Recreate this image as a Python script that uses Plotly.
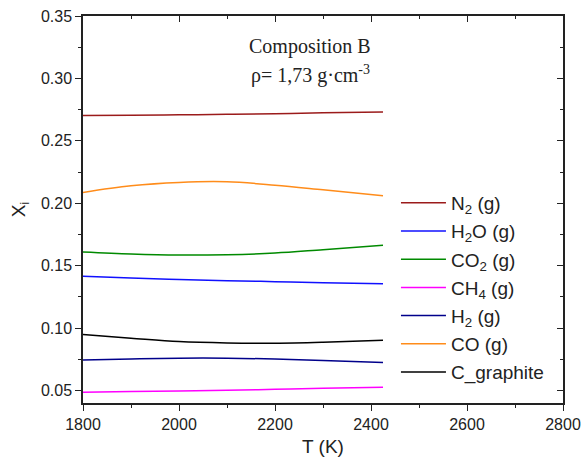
import plotly.graph_objects as go

T = [1800, 1900, 2000, 2100, 2200, 2300, 2425]
N2 = [0.2702, 0.2704, 0.2708, 0.2712, 0.2717, 0.2724, 0.2732]
H2O = [0.1415, 0.1401, 0.1390, 0.1380, 0.1372, 0.1364, 0.1356]
CO2 = [0.1609, 0.1593, 0.1585, 0.1588, 0.1601, 0.1628, 0.1663]
CH4 = [0.0487, 0.0492, 0.0497, 0.0502, 0.0510, 0.0518, 0.0527]
H2 = [0.0745, 0.0753, 0.0759, 0.0759, 0.0753, 0.0740, 0.0724]
CO = [0.2087, 0.2140, 0.2167, 0.2172, 0.2145, 0.2108, 0.2060]
C_graphite = [0.0948, 0.0919, 0.0892, 0.0881, 0.0879, 0.0887, 0.0903]

series = [
    ("N<sub>2</sub> (g)", N2, "#9B1B1B"),
    ("H<sub>2</sub>O (g)", H2O, "#1010FF"),
    ("CO<sub>2</sub> (g)", CO2, "#008A00"),
    ("CH<sub>4</sub> (g)", CH4, "#FF00FF"),
    ("H<sub>2</sub> (g)", H2, "#00008B"),
    ("CO (g)", CO, "#FF8C1A"),
    ("C_graphite", C_graphite, "#000000"),
]

fig = go.Figure()
for name, vals, col in series:
    fig.add_trace(go.Scatter(x=T, y=vals, mode="lines", name=name, legendgroup=name,
                             line=dict(color=col, width=1.5, shape="spline")))

font = "Liberation Sans, Arial, sans-serif"
axis_common = dict(showline=True, linecolor="#222", linewidth=1.5, ticks="outside",
                   ticklen=6, tickwidth=1.2, tickcolor="#222", showgrid=False, zeroline=False,
                   automargin=False,
                   tickfont=dict(family=font, size=16, color="#222"))

fig.update_layout(
    template="none",
    width=584, height=467,
    margin=dict(l=83, r=21, t=16, b=64),
    plot_bgcolor="white", paper_bgcolor="white",
    font=dict(family=font, color="#222"),
    xaxis=dict(range=[1800, 2800], dtick=200, tick0=1800,
               minor=dict(dtick=100, ticks="outside", ticklen=3, tickcolor="#222"),
               title=dict(text="T (K)", font=dict(family=font, size=19), standoff=8),
               **axis_common),
    yaxis=dict(range=[0.04, 0.35], dtick=0.05, tick0=0.05, tickformat=".2f",
               minor=dict(dtick=0.025, ticks="outside", ticklen=3, tickcolor="#222"),
               title=dict(text="X<sub>i</sub>", font=dict(family=font, size=19), standoff=10),
               **axis_common),
    xaxis2=dict(overlaying="x", matches="x", side="top", showline=True, linecolor="#222",
                linewidth=1.5, ticks="inside", ticklen=6, tickcolor="#222", showticklabels=False,
                showgrid=False, zeroline=False, automargin=False,
                range=[1800, 2800], dtick=200, tick0=1800,
                minor=dict(dtick=100, ticks="inside", ticklen=3, tickcolor="#222")),
    yaxis2=dict(overlaying="y", matches="y", side="right", showline=True, linecolor="#222",
                linewidth=1.5, ticks="inside", ticklen=6, tickcolor="#222", showticklabels=False,
                showgrid=False, zeroline=False, automargin=False,
                range=[0.04, 0.35], dtick=0.05, tick0=0.05,
                minor=dict(dtick=0.025, ticks="inside", ticklen=3, tickcolor="#222")),
    legend=dict(x=0.652, y=0.566, xanchor="left", yanchor="top", bgcolor="rgba(0,0,0,0)",
                font=dict(family=font, size=19, color="#222"), tracegroupgap=0.5,
                itemwidth=45),
    showlegend=True,
)

fig.add_trace(go.Scatter(x=[None], y=[None], xaxis="x2", yaxis="y2", showlegend=False,
                         hoverinfo="skip"))

serif = "Liberation Serif, Times New Roman, serif"
fig.add_annotation(text="Composition B", x=0.473, y=0.92, xref="paper", yref="paper",
                   yanchor="middle", showarrow=False, font=dict(family=serif, size=20, color="#222"))
fig.add_annotation(text="ρ= 1,73 g·cm<sup>-3</sup>", x=0.473, y=0.85, xref="paper",
                   yref="paper", yanchor="middle", showarrow=False,
                   font=dict(family=serif, size=20, color="#222"))

fig.write_html(
    "out.html",
    config={"displayModeBar": False},
    post_script="document.body.style.margin='0';document.body.style.padding='0';"
                "document.body.style.overflow='hidden';"
                "document.documentElement.style.overflow='hidden';",
)
